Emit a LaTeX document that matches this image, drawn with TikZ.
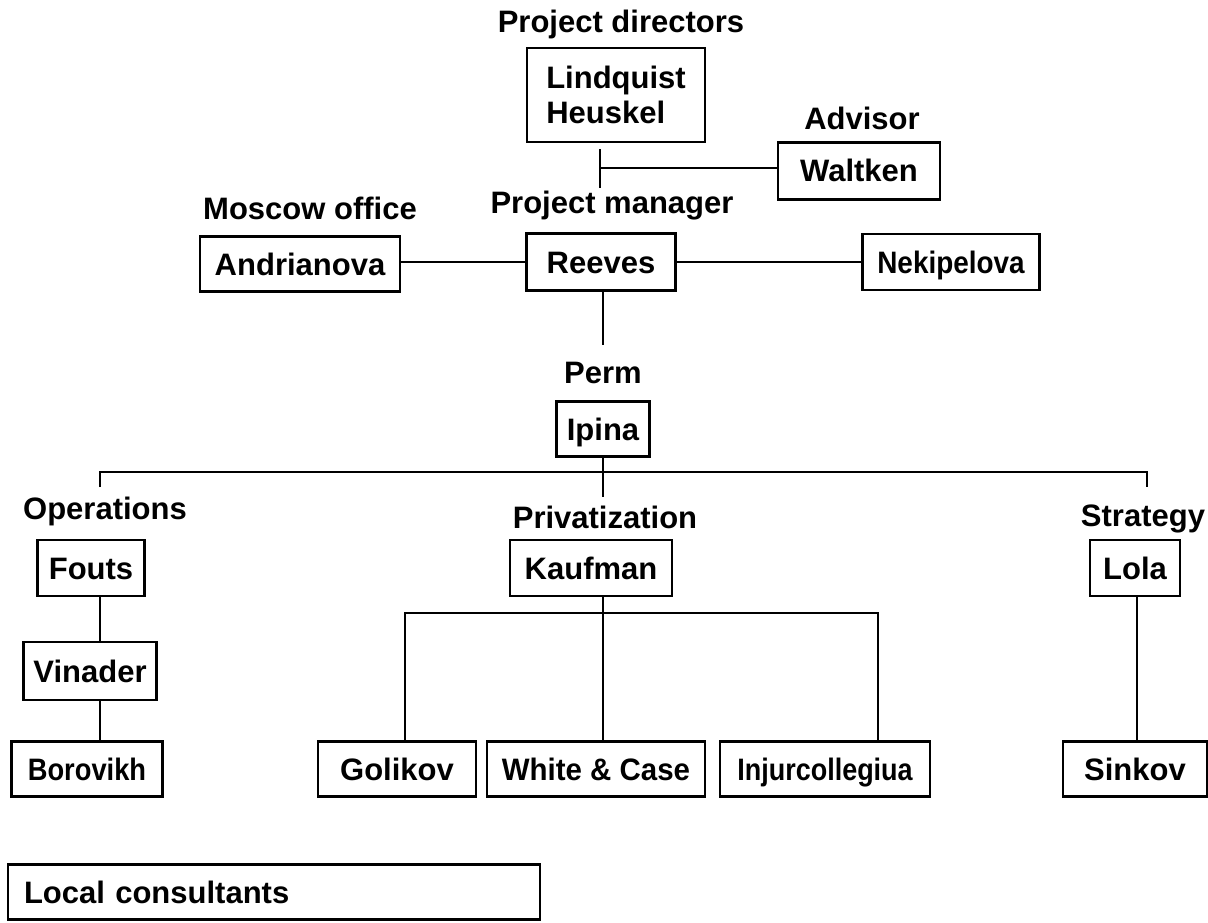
\documentclass[tikz,border=0pt]{standalone}
\usepackage{fontspec}
\setmainfont{Liberation Sans}
\begin{document}
\begin{tikzpicture}[x=1pt,y=-1pt,
  every node/.style={font=\fontsize{31}{35}\selectfont\bfseries},
  box/.style={draw, line width=2.4pt, inner sep=0pt, minimum height=56pt,
    text height=22pt, text depth=0pt},
  lbl/.style={inner sep=0pt, text height=22pt, text depth=0pt},
  conn/.style={line width=2pt}]
\useasboundingbox (0,0) rectangle (1208,923);

% headings
\node[lbl] (hdir) at (621,22) {Project directors};
\node[lbl] (hadv) at (862,119) {Advisor};
\node[lbl] (hmos) at (310,208) {Moscow office};
\node[lbl] (hpm)  at (612,203) {Project manager};
\node[lbl] (hperm) at (603,372) {Perm};
\node[lbl] (hops) at (105,508) {Operations};
\node[lbl] (hpriv) at (605,517) {Privatization};
\node[lbl] (hstr) at (1143,515) {Strategy};

% people
\node[draw, line width=2.4pt, inner sep=0pt, minimum width=178pt, minimum height=94pt, align=left] (dir) at (616,95) {Lindquist\\Heuskel};
\node[box, minimum width=162pt, minimum height=57pt] (walt) at (859,171) {Waltken};
\node[box, minimum width=200pt, minimum height=55pt] (andr) at (300,264) {Andrianova};
\node[box, minimum width=149pt, minimum height=57pt] (reev) at (601,262) {Reeves};
\node[box, minimum width=177pt] (nek) at (951,262) {\scalebox{0.9}[1]{Nekipelova}};
\node[box, minimum width=93pt, minimum height=55pt] (ipi) at (603,429) {Ipina};
\node[box, minimum width=107pt] (fou) at (91,568) {Fouts};
\node[box, minimum width=133pt, minimum height=58pt] (vin) at (90,671) {Vinader};
\node[box, minimum width=151pt, minimum height=55pt] (bor) at (87,769) {\scalebox{0.88}[1]{Borovikh}};
\node[box, minimum width=162pt] (kau) at (591,568) {Kaufman};
\node[box, minimum width=90pt] (lol) at (1135,568) {Lola};
\node[box, minimum width=158pt, minimum height=55pt] (gol) at (397,769) {Golikov};
\node[box, minimum width=218pt, minimum height=55pt] (whc) at (596,769) {\scalebox{0.95}[1]{White \& Case}};
\node[box, minimum width=210pt, minimum height=55pt] (inj) at (825,769) {\scalebox{0.87}[1]{Injurcollegiua}};
\node[box, minimum width=144pt, minimum height=55pt] (sin) at (1135,769) {Sinkov};
\node[box, minimum width=532pt, minimum height=55pt, inner xsep=16pt, text width=500pt, align=left] (loc) at (274,892) {Local consultants};

% free ends and junctions
\coordinate (dirend) at (600,188);
\coordinate (advj) at (600,168);
\coordinate (reevend) at (603,345);
\coordinate (pj) at (603,472);
\coordinate (opsend) at (100,487);
\coordinate (strend) at (1147,487);
\coordinate (privend) at (603,497);
\coordinate (kj) at (603,613);

% connectors
\draw[conn] (dir.south -| dirend) ++(0,6) -- (dirend);
\draw[conn] (advj) -- (walt.west |- advj);
\draw[conn] (andr.east |- reev.west) -- (reev.west);
\draw[conn] (reev.east) -- (nek.west |- reev.east);
\draw[conn] (reev.south -| reevend) -- (reevend);
\draw[conn] (ipi.south -| pj) -- (pj);
\draw[conn] (opsend) -- (opsend |- pj) -- (strend |- pj) -- (strend);
\draw[conn] (pj) -- (privend);
\draw[conn] (fou.south -| 100,0) -- (vin.north -| 100,0);
\draw[conn] (vin.south -| 100,0) -- (bor.north -| 100,0);
\draw[conn] (kau.south -| kj) -- (kj);
\draw[conn] (gol.north -| 405,0) -- (405,613) -- (878,613) -- (inj.north -| 878,0);
\draw[conn] (kj) -- (whc.north -| kj);
\draw[conn] (lol.south -| 1137,0) -- (sin.north -| 1137,0);
\end{tikzpicture}
\end{document}
